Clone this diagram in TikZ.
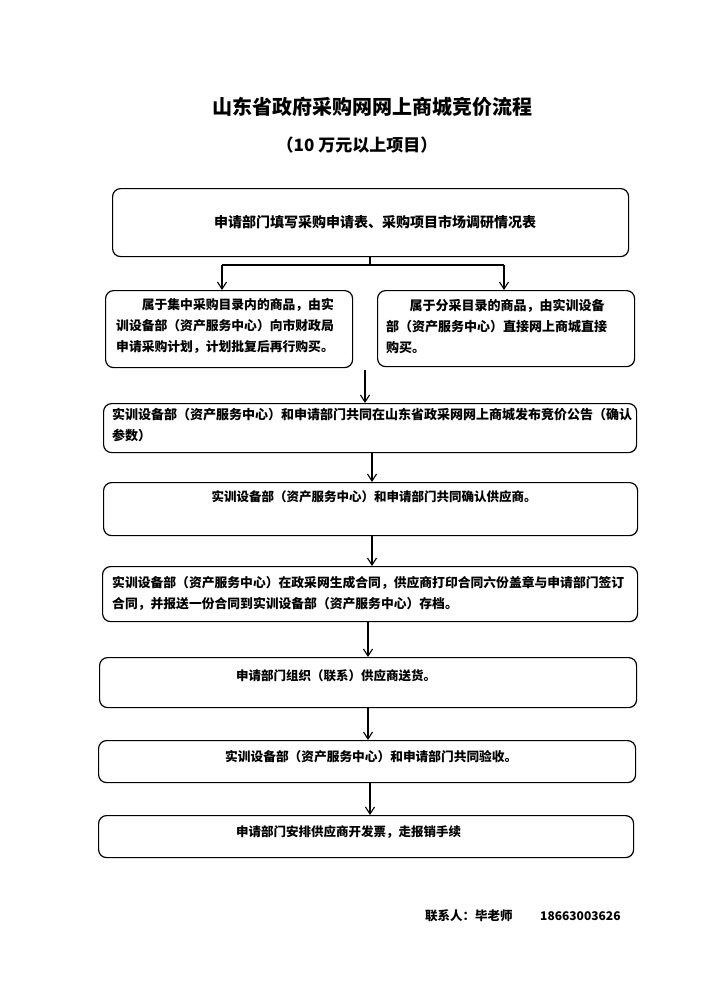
\documentclass[tikz,border=0pt]{standalone}
\usepackage{fontspec}
\setmainfont{Noto Sans CJK SC}
\usetikzlibrary{arrows.meta}
\tikzset{
  box/.style={draw, line width=1.2pt, rounded corners=8pt, anchor=north west, inner sep=0pt},
  arr/.style={line width=1.1pt, -{Straight Barb[length=7pt,width=9pt,line width=1.1pt]}},
  lnk/.style={line width=1.1pt},
  txt/.style={inner sep=0pt, font=\fontsize{12.5}{21}\selectfont\bfseries, align=left},
  txtb/.style={txt, font=\fontsize{13}{21}\selectfont\bfseries},
}
\begin{document}
\begin{tikzpicture}[x=1pt,y=-1pt]
\useasboundingbox[fill=white] (0,0) rectangle (714,1004);
% titles
\node[inner sep=0pt, font=\fontsize{20}{22}\selectfont\bfseries] (title) at (372,107) {山东省政府采购网网上商城竞价流程};
\node[inner sep=0pt, font=\fontsize{17}{20}\selectfont\bfseries] (sub) at (357,145) {（10 万元以上项目）};
% boxes
\node[box, minimum width=516, minimum height=68] (b1) at (112,188) {};
\node[box, minimum width=247, minimum height=77] (b2l) at (105,290) {};
\node[box, minimum width=257, minimum height=76] (b2r) at (377,290) {};
\node[box, minimum width=533, minimum height=49] (b3) at (103,403) {};
\node[box, minimum width=534, minimum height=53] (b4) at (103,482) {};
\node[box, minimum width=535, minimum height=55] (b5) at (102,566) {};
\node[box, minimum width=537, minimum height=50] (b6) at (99,657) {};
\node[box, minimum width=537, minimum height=42] (b7) at (98,740) {};
\node[box, minimum width=535, minimum height=42] (b8) at (98,815) {};
% texts
\node[txt, font=\fontsize{14}{18}\selectfont\bfseries] (t1) at (375,222) {申请部门填写采购申请表、采购项目市场调研情况表};
\node[txt, font=\fontsize{12.8}{21}\selectfont\bfseries, anchor=north west] (t2l) at (116,298) {\hspace*{2em}属于集中采购目录内的商品，由实\\训设备部（资产服务中心）向市财政局\\申请采购计划，计划批复后再行购买。};
\node[txtb, anchor=north west] (t2r) at (386,299) {\hspace*{1.8em}属于分采目录的商品，由实训设备\\部（资产服务中心）直接网上商城直接\\购买。};
\node[txtb, anchor=north west] (t3) at (112,408) {实训设备部（资产服务中心）和申请部门共同在山东省政采网网上商城发布竞价公告（确认\\参数）};
\node[txt] (t4) at (374,497) {实训设备部（资产服务中心）和申请部门共同确认供应商。};
\node[txt, font=\fontsize{12.8}{21}\selectfont\bfseries, anchor=north west] (t5) at (112,576) {实训设备部（资产服务中心）在政采网生成合同，供应商打印合同六份盖章与申请部门签订\\合同，并报送一份合同到实训设备部（资产服务中心）存档。};
\node[txt, anchor=west] (t6) at (236,676) {申请部门组织（联系）供应商送货。};
\node[txt, anchor=west, font=\fontsize{12.7}{21}\selectfont\bfseries] (t7) at (225,757) {实训设备部（资产服务中心）和申请部门共同验收。};
\node[txt, anchor=west] (t8) at (236,832) {申请部门安排供应商开发票，走报销手续};
\node[txt, anchor=west] (c1) at (425,916) {联系人：毕老师};
\node[txt, anchor=west, font=\fontsize{12}{14}\selectfont\bfseries] (c2) at (540,916) {18663003626};
% connectors
\coordinate (j) at (370,265);
\coordinate (jl) at (222,265);
\coordinate (jr) at (504,265);
\draw[lnk] (b1.south -| j) -- (j);
\draw[lnk] (jl) -- (jr);
\draw[arr] (jl) -- (jl |- b2l.north);
\draw[arr] (jr) -- (jr |- b2r.north);
\coordinate (m) at (365,370);
\draw[arr] (m) -- (m |- b3.north);
\coordinate (a3) at (372,0);
\draw[arr] (b3.south -| a3) -- (b4.north -| a3);
\draw[arr] (b4.south -| a3) -- (b5.north -| a3);
\coordinate (a5) at (368,0);
\draw[arr] (b5.south -| a5) -- (b6.north -| a5);
\draw[arr] (b6.south -| a5) -- (b7.north -| a5);
\coordinate (a7) at (370,0);
\draw[arr] (b7.south -| a7) -- (b8.north -| a7);
\end{tikzpicture}
\end{document}
